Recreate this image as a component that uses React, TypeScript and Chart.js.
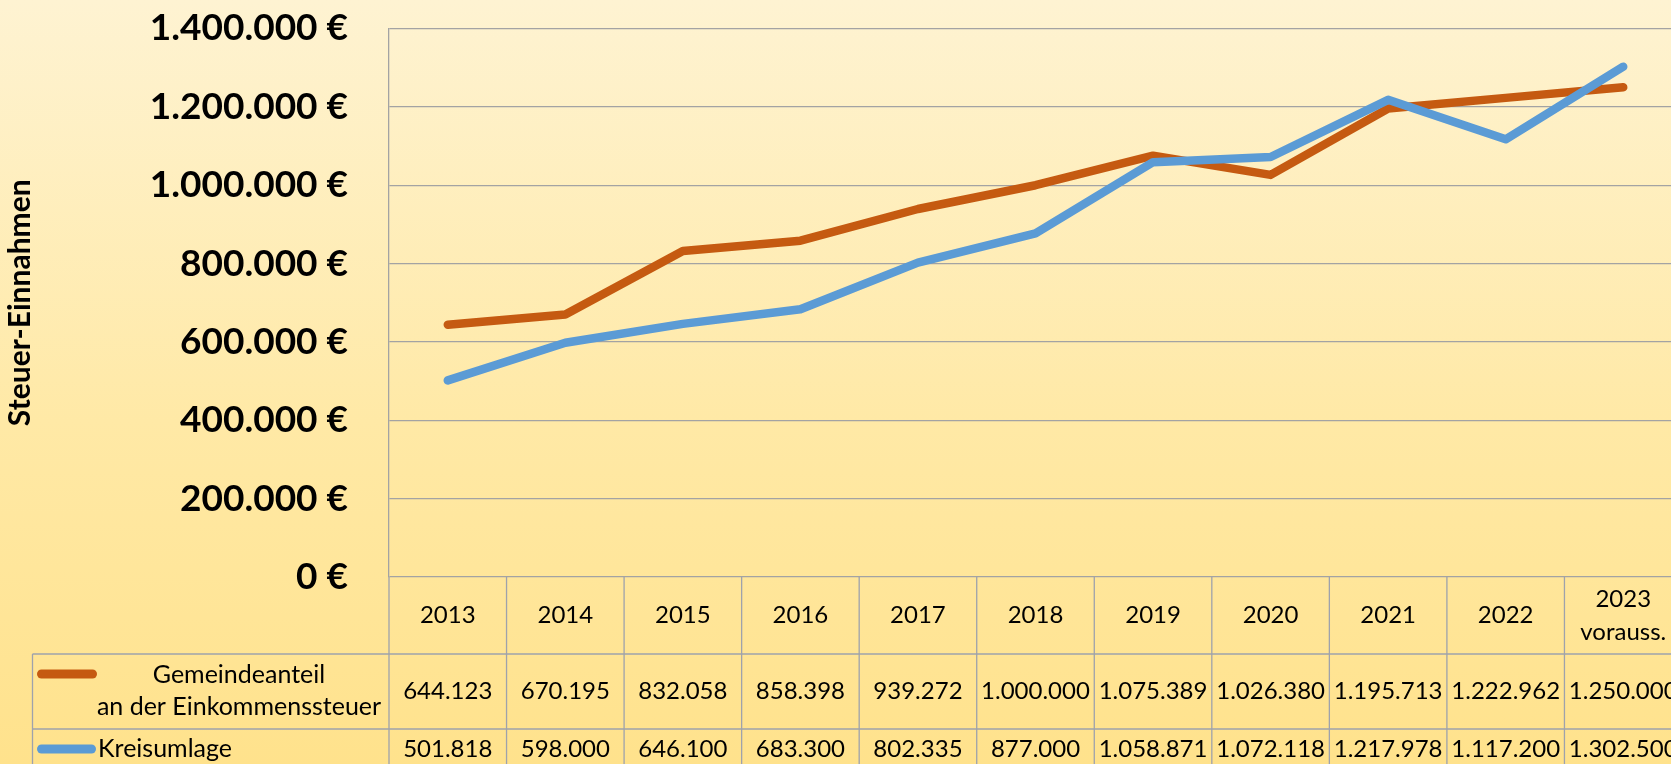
import { useEffect, useRef } from "react";
import { Chart, registerables } from "chart.js";

Chart.register(...registerables);

const years = ["2013", "2014", "2015", "2016", "2017", "2018", "2019", "2020", "2021", "2022", "2023"];
const yearHeaderLabels: string[][] = [
  ["2013"], ["2014"], ["2015"], ["2016"], ["2017"], ["2018"], ["2019"], ["2020"], ["2021"], ["2022"],
  ["2023", "vorauss."],
];
const gemeindeanteil = [644123, 670195, 832058, 858398, 939272, 1000000, 1075389, 1026380, 1195713, 1222962, 1250000];
const kreisumlage = [501818, 598000, 646100, 683300, 802335, 877000, 1058871, 1072118, 1217978, 1117200, 1302500];
const gemeindeLabel = ["Gemeindeanteil", "an der Einkommenssteuer"];
const kreisLabel = ["Kreisumlage"];
const yAxisTitle = "Steuer-Einnahmen";
const yMin = 0;
const yMax = 1400000;
const yStep = 200000;

const ORANGE = "#C55A11";
const BLUE = "#5B9BD5";
const GRID = "#A3A3A3";
const TABLE_LINE = "#9EA2AC";
const FONT = "Lato, 'Open Sans', sans-serif";

const fmt = (n: number) => String(Math.round(n)).replace(/\B(?=(\d{3})+(?!\d))/g, ".");

const tablePlugin = {
  id: "dataTable",
  afterDraw(chart: any) {
    const ctx = chart.ctx as CanvasRenderingContext2D;
    const x = chart.scales.x;
    const area = chart.chartArea;
    const n = years.length;
    const half = (x.getPixelForValue(1) - x.getPixelForValue(0)) / 2;
    const bounds: number[] = [];
    for (let i = 0; i < n; i++) bounds.push(x.getPixelForValue(i) - half);
    bounds.push(x.getPixelForValue(n - 1) + half);

    const top = area.bottom;
    const headerBottom = top + 77;
    const row1Bottom = headerBottom + 75;
    const row2Bottom = row1Bottom + 42;
    const legendLeft = 32.5;

    ctx.save();
    ctx.strokeStyle = TABLE_LINE;
    ctx.lineWidth = 1.3;
    ctx.beginPath();
    for (const b of bounds) {
      ctx.moveTo(b, top);
      ctx.lineTo(b, row2Bottom);
    }
    ctx.moveTo(legendLeft, headerBottom);
    ctx.lineTo(legendLeft, row2Bottom);
    for (const yy of [headerBottom, row1Bottom, row2Bottom]) {
      ctx.moveTo(legendLeft, yy);
      ctx.lineTo(bounds[n], yy);
    }
    ctx.stroke();

    ctx.fillStyle = "#000";
    ctx.font = `24px ${FONT}`;
    ctx.textAlign = "center";
    ctx.textBaseline = "middle";
    const lh = 33;
    yearHeaderLabels.forEach((lines, i) => {
      const cx = x.getPixelForValue(i);
      const cy = (top + headerBottom) / 2;
      lines.forEach((t, k) => {
        ctx.fillText(t, cx, cy + (k - (lines.length - 1) / 2) * lh);
      });
    });
    const rowData = [
      { vals: gemeindeanteil, cy: (headerBottom + row1Bottom) / 2 },
      { vals: kreisumlage, cy: row1Bottom + 20 },
    ];
    rowData.forEach((r) => {
      r.vals.forEach((v, i) => {
        ctx.fillText(fmt(v), x.getPixelForValue(i), r.cy);
      });
    });

    // legend cells
    ctx.lineCap = "round";
    ctx.lineWidth = 9;
    ctx.strokeStyle = ORANGE;
    ctx.beginPath();
    ctx.moveTo(41.5, headerBottom + 20);
    ctx.lineTo(92.5, headerBottom + 20);
    ctx.stroke();
    ctx.strokeStyle = BLUE;
    ctx.beginPath();
    ctx.moveTo(41.5, row1Bottom + 20);
    ctx.lineTo(91.5, row1Bottom + 20);
    ctx.stroke();

    ctx.font = `25px ${FONT}`;
    ctx.textAlign = "center";
    ctx.fillText(gemeindeLabel[0], 239, headerBottom + 21);
    ctx.fillText(gemeindeLabel[1], 239, headerBottom + 53);
    ctx.textAlign = "left";
    ctx.fillText(kreisLabel[0], 98, row1Bottom + 20);
    ctx.restore();
  },
};

export default function App() {
  const canvasRef = useRef<HTMLCanvasElement | null>(null);

  useEffect(() => {
    if (!canvasRef.current) return;
    const chart = new Chart(canvasRef.current, {
      type: "line",
      data: {
        labels: years,
        datasets: [
          {
            label: gemeindeLabel.join(" "),
            data: gemeindeanteil,
            borderColor: ORANGE,
            backgroundColor: ORANGE,
            borderWidth: 8.5,
            pointRadius: 0,
            tension: 0,
            borderCapStyle: "round",
            borderJoinStyle: "round",
            order: 1,
          },
          {
            label: kreisLabel[0],
            data: kreisumlage,
            borderColor: BLUE,
            backgroundColor: BLUE,
            borderWidth: 8.5,
            pointRadius: 0,
            tension: 0,
            borderCapStyle: "round",
            borderJoinStyle: "round",
            order: 0,
          },
        ],
      },
      options: {
        responsive: false,
        maintainAspectRatio: false,
        animation: false,
        devicePixelRatio: 1,
        layout: { padding: { left: 0, top: 28.5, right: 18, bottom: 203 } },
        plugins: { legend: { display: false }, tooltip: { enabled: false }, title: { display: false } },
        scales: {
          x: {
            type: "category",
            display: false,
            offset: true,
          },
          y: {
            position: "left",
            min: yMin,
            max: yMax,
            afterFit: (s: any) => {
              s.width = 389;
              s.paddingTop = 0;
              s.paddingBottom = 0;
            },
            ticks: {
              stepSize: yStep,
              padding: 41,
              color: "#000",
              font: { family: FONT, weight: "bold", size: 37 },
              callback: (v: any) => `${fmt(Number(v))} €`,
            },
            grid: { color: GRID, lineWidth: 1.3, drawTicks: false },
            border: { display: true, color: GRID, width: 1.3 },
            title: {
              display: true,
              text: yAxisTitle,
              color: "#000",
              font: { family: FONT, weight: "bold", size: 30 },
              padding: { top: 2, bottom: 0 },
            },
          },
        },
      },
      plugins: [tablePlugin],
    } as any);
    return () => chart.destroy();
  }, []);

  return (
    <div
      style={{
        position: "fixed",
        left: 0,
        top: 0,
        width: 1671,
        height: 764,
        overflow: "hidden",
        background: "linear-gradient(180deg, #FEF3D2 0%, #FFE9A6 55%, #FFE28C 100%)",
      }}
    >
      <canvas ref={canvasRef} width={1700} height={780} style={{ display: "block", width: 1700, height: 780 }} />
    </div>
  );
}
